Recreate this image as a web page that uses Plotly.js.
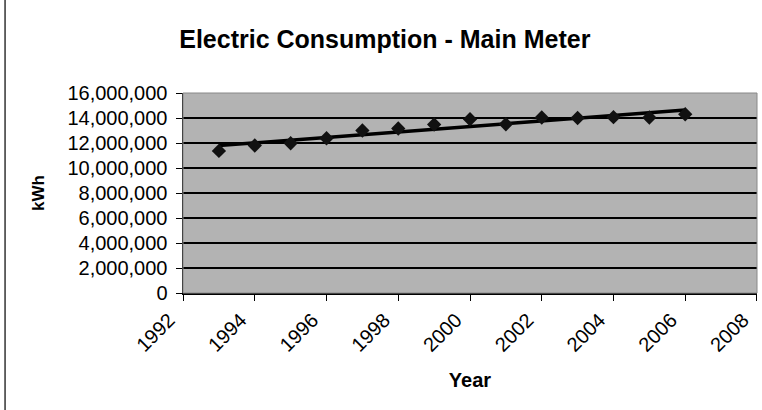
<!DOCTYPE html>
<html>
<head>
<meta charset="utf-8">
<script src="https://cdn.plot.ly/plotly-3.0.1.min.js"></script>
<style>html,body{margin:0;padding:0;background:#fff;}#chart{width:762px;height:410px;}</style>
</head>
<body>
<div id="chart"></div>
<script>
const years = [1993,1994,1995,1996,1997,1998,1999,2000,2001,2002,2003,2004,2005,2006];
const kwh = [11370000,11800000,11980000,12380000,13000000,13160000,13480000,13900000,13500000,14040000,14000000,14070000,14040000,14300000];
const xTicks = [1992,1994,1996,1998,2000,2002,2004,2006,2008];
const yTicks = [0,2000000,4000000,6000000,8000000,10000000,12000000,14000000,16000000];

// linear trendline (least squares) computed from the data
const n = years.length;
const mx = years.reduce((a,b)=>a+b,0)/n;
const my = kwh.reduce((a,b)=>a+b,0)/n;
let sxy=0, sxx=0;
for(let i=0;i<n;i++){sxy+=(years[i]-mx)*(kwh[i]-my);sxx+=(years[i]-mx)**2;}
const slope = sxy/sxx, icpt = my - slope*mx;
const trendX = [years[0], years[n-1]];
const trendY = trendX.map(x=>icpt+slope*x);

const font = 'Arial, "Liberation Sans", sans-serif';
const data = [
  {x: trendX, y: trendY, mode:'lines', line:{color:'#000', width:3.5}, hoverinfo:'skip'},
  {x: years, y: kwh, mode:'markers', marker:{symbol:'diamond', size:11, color:'#111'}}
];
const layout = {
  width:762, height:410,
  margin:{l:183, r:5, t:93, b:117},
  paper_bgcolor:'#fff', plot_bgcolor:'#b3b3b3',
  showlegend:false,
  font:{family:font, color:'#000'},
  title:{text:'<b>Electric Consumption - Main Meter</b>', font:{size:25, family:font, color:'#000'}, x:0.505, xanchor:'center', y:0.905, yanchor:'middle'},
  xaxis:{range:[1991.999,2008.001], tickvals:xTicks, ticktext:xTicks.map(String), tickangle:-45,
    ticklabeloverflow:'allow', ticklabelshift:-14,
    ticks:'outside', ticklen:6, tickcolor:'#000', showline:true, linecolor:'#000', linewidth:1.5,
    showgrid:false, zeroline:false, tickfont:{size:20, family:font, color:'#000'},
    title:{text:'<b>Year</b>', font:{size:20, family:font, color:'#000'}, standoff:18}},
  yaxis:{range:[0,16000000], tickvals:yTicks, ticktext:yTicks.map(v=>v.toLocaleString('en-US')),
    ticks:'outside', ticklen:6, tickcolor:'#000', showline:true, linecolor:'#000', linewidth:1.5,
    showgrid:true, gridcolor:'#000', gridwidth:1.5, zeroline:false, tickfont:{size:20, family:font, color:'#000'},
    ticklabelstandoff:4,
    title:{text:'<b>kWh</b>', font:{size:17, family:font, color:'#000'}, standoff:18}},
  shapes:[
    {type:'rect', xref:'paper', yref:'paper', x0:0, x1:1, y0:0, y1:1, line:{color:'#888', width:1}},
    {type:'line', xref:'paper', yref:'paper', x0:-0.31, x1:-0.31, y0:-0.6, y1:1.5, line:{color:'#333', width:1.5}}
  ]
};
Plotly.newPlot('chart', data, layout, {displayModeBar:false, staticPlot:true});
</script>
</body>
</html>
